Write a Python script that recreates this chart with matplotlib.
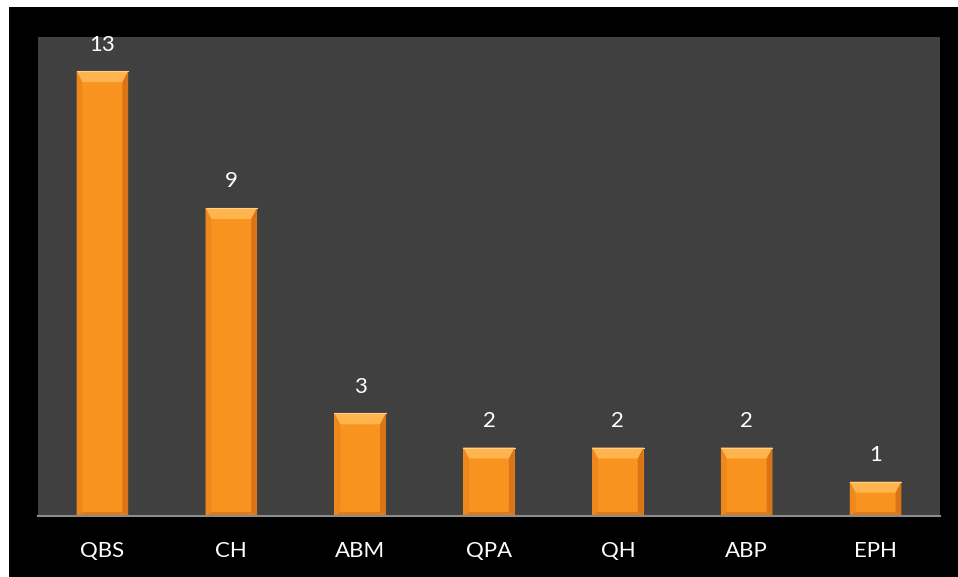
import numpy as np
import matplotlib
matplotlib.use('Agg')
import matplotlib.pyplot as plt
from matplotlib.patches import Rectangle, Polygon

categories = ['QBS', 'CH', 'ABM', 'QPA', 'QH', 'ABP', 'EPH']
values = [13, 9, 3, 2, 2, 2, 1]

plt.rcParams['font.family'] = ['Lato', 'DejaVu Sans']

fig = plt.figure(figsize=(9.58, 5.77), dpi=100)
fig.patch.set_facecolor('white')
fig.patches.append(Rectangle((9 / 958, 0), 949 / 958, 570 / 577,
                             transform=fig.transFigure, facecolor='black',
                             edgecolor='none', zorder=-10))

ax = fig.add_axes([38 / 958, 1 - 516 / 577, 902 / 958, 479 / 577])
ax.set_facecolor('#404040')
ax.set_zorder(1)

x = np.arange(len(categories))
width = 0.4
bars = ax.bar(x, values, width=width, color='#F7931E', edgecolor='none', zorder=2)

# bevel look on each bar
dx = 0.045
dy_top = 0.32
dy_bot = 0.12
for b in bars:
    x0, y0 = b.get_x(), b.get_y()
    w, h = b.get_width(), b.get_height()
    x1, y1 = x0 + w, y0 + h
    top = Polygon([(x0, y1), (x1, y1), (x1 - dx, y1 - dy_top), (x0 + dx, y1 - dy_top)],
                  closed=True, facecolor='#FFB44D', edgecolor='none', zorder=3)
    left = Polygon([(x0, y1), (x0 + dx, y1 - dy_top), (x0 + dx, y0 + dy_bot), (x0, y0)],
                   closed=True, facecolor='#EE871C', edgecolor='none', zorder=3)
    right = Polygon([(x1, y1), (x1 - dx, y1 - dy_top), (x1 - dx, y0 + dy_bot), (x1, y0)],
                    closed=True, facecolor='#D97417', edgecolor='none', zorder=3)
    bot = Polygon([(x0, y0), (x1, y0), (x1 - dx, y0 + dy_bot), (x0 + dx, y0 + dy_bot)],
                  closed=True, facecolor='#E07B1A', edgecolor='none', zorder=3)
    for p in (top, left, right, bot):
        ax.add_patch(p)
    ax.plot([x0, x1], [y1, y1], color='#FFD08A', lw=0.8, zorder=4)
    ax.annotate(str(int(h)), (b.get_x() + w / 2, y1), xytext=(0, 12),
                textcoords='offset points', ha='center', va='bottom',
                color='white', fontsize=16)

ax.set_xlim(-0.5, len(categories) - 0.5)
ax.set_ylim(0, 14)
ax.set_xticks(x)
ax.set_xticklabels(categories, color='white', fontsize=16)
ax.tick_params(axis='x', length=0, pad=18)
ax.set_yticks([])
for s in ['top', 'left', 'right']:
    ax.spines[s].set_visible(False)
ax.spines['bottom'].set_color('#8C8C8C')
ax.spines['bottom'].set_linewidth(1.5)
ax.spines['bottom'].set_zorder(5)

fig.savefig('out.png', dpi=100, facecolor=fig.get_facecolor())
